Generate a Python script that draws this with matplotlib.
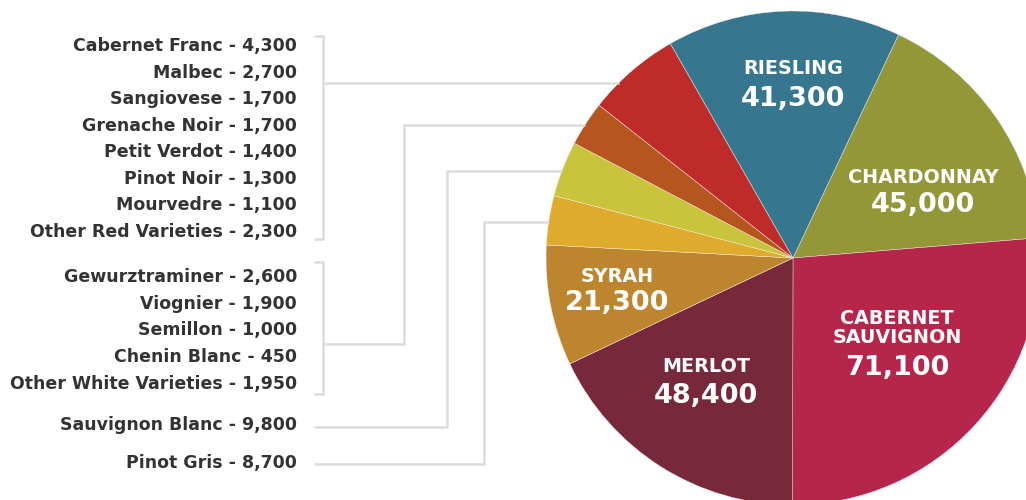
import numpy as np
import matplotlib
matplotlib.use("Agg")
import matplotlib.pyplot as plt

plt.rcParams['font.family'] = ['DejaVu Sans']

# main pie slices, clockwise from the Riesling/Chardonnay edge
slice_names = ["Chardonnay", "Cabernet Sauvignon", "Merlot", "Syrah", "Pinot Gris",
               "Sauvignon Blanc", "Other Whites", "Other Reds", "Riesling"]
red_names = ["Cabernet Franc", "Malbec", "Sangiovese", "Grenache Noir", "Petit Verdot",
             "Pinot Noir", "Mourvedre", "Other Red Varieties"]
red_values = [4300, 2700, 1700, 1700, 1400, 1300, 1100, 2300]
white_names = ["Gewurztraminer", "Viognier", "Semillon", "Chenin Blanc", "Other White Varieties"]
white_values = [2600, 1900, 1000, 450, 1950]
big_values = {"Chardonnay": 45000, "Cabernet Sauvignon": 71100, "Merlot": 48400,
              "Syrah": 21300, "Pinot Gris": 8700, "Sauvignon Blanc": 9800, "Riesling": 41300}
slice_values = [big_values.get(n, 0) for n in slice_names]
slice_values[slice_names.index("Other Whites")] = sum(white_values)
slice_values[slice_names.index("Other Reds")] = sum(red_values)
slice_colors = ["#939738", "#b5264a", "#77283b", "#bd862e", "#dfab2d",
                "#c9c43b", "#b5561f", "#bf2b29", "#36768f"]

W, H = 1026, 500
cx, cy, r = 793, 258, 247
line_col = "#dcdcdc"
text_col = "#333333"


def Y(y):
    return H - y


fig = plt.figure(figsize=(W / 100, H / 100), dpi=100)
ax = fig.add_axes([0, 0, 1, 1])
ax.pie(slice_values, colors=slice_colors, startangle=64.7, counterclock=False,
       center=(cx, Y(cy)), radius=r, wedgeprops=dict(edgecolor="#f4f0ec", linewidth=0.3))
ax.set_xlim(0, W)
ax.set_ylim(0, H)
ax.set_aspect("equal")
ax.axis("off")

# labels inside the pie: (name, number, x, name y, number y)
inside = [("RIESLING", "41,300", 793, 69, 99.5),
          ("CHARDONNAY", "45,000", 923, 177.5, 205),
          ("CABERNET\nSAUVIGNON", "71,100", 897, 328, 368),
          ("MERLOT", "48,400", 706, 366, 396),
          ("SYRAH", "21,300", 617, 277, 303)]
for name, num, x, yn, yv in inside:
    ax.text(x, Y(yn), name, color="white", fontsize=13.8, fontweight="bold",
            ha="center", va="center", linespacing=1.05)
    ax.text(x, Y(yv), num, color="white", fontsize=19.5, fontweight="bold",
            ha="center", va="center")

# left hand list
tx = 297
fs = 12.5
red_y = [46, 73, 99, 126, 152, 179, 205, 232]
white_y = [277, 304, 330, 357, 384]
for n, v, y in zip(red_names, red_values, red_y):
    ax.text(tx, Y(y), f"{n} - {v:,}", color=text_col, fontsize=fs, fontweight="bold",
            ha="right", va="center")
for n, v, y in zip(white_names, white_values, white_y):
    ax.text(tx, Y(y), f"{n} - {v:,}", color=text_col, fontsize=fs, fontweight="bold",
            ha="right", va="center")
single = [("Sauvignon Blanc", 425), ("Pinot Gris", 463)]
for n, y in single:
    ax.text(tx, Y(y), f"{n} - {big_values[n]:,}", color=text_col, fontsize=fs,
            fontweight="bold", ha="right", va="center")


def edge_x(y):
    return cx - np.sqrt(r ** 2 - (y - cy) ** 2)


def seg(xs, ys):
    ax.plot(xs, [Y(v) for v in ys], color=line_col, lw=1.8, solid_capstyle="butt",
            solid_joinstyle="miter")


# brackets and leaders
bx, tick = 323, 9
seg([bx - tick, bx, bx, bx - tick], [36, 36, 239, 239])
seg([bx, edge_x(83)], [83, 83])
seg([bx - tick, bx, bx, bx - tick], [262, 262, 394, 394])
seg([bx, 404, 404, edge_x(125)], [344, 344, 125, 125])
seg([314, 447, 447, edge_x(171)], [427, 427, 171, 171])
seg([314, 484, 484, edge_x(222)], [464, 464, 222, 222])

fig.savefig("out.png", dpi=100, facecolor="white")
